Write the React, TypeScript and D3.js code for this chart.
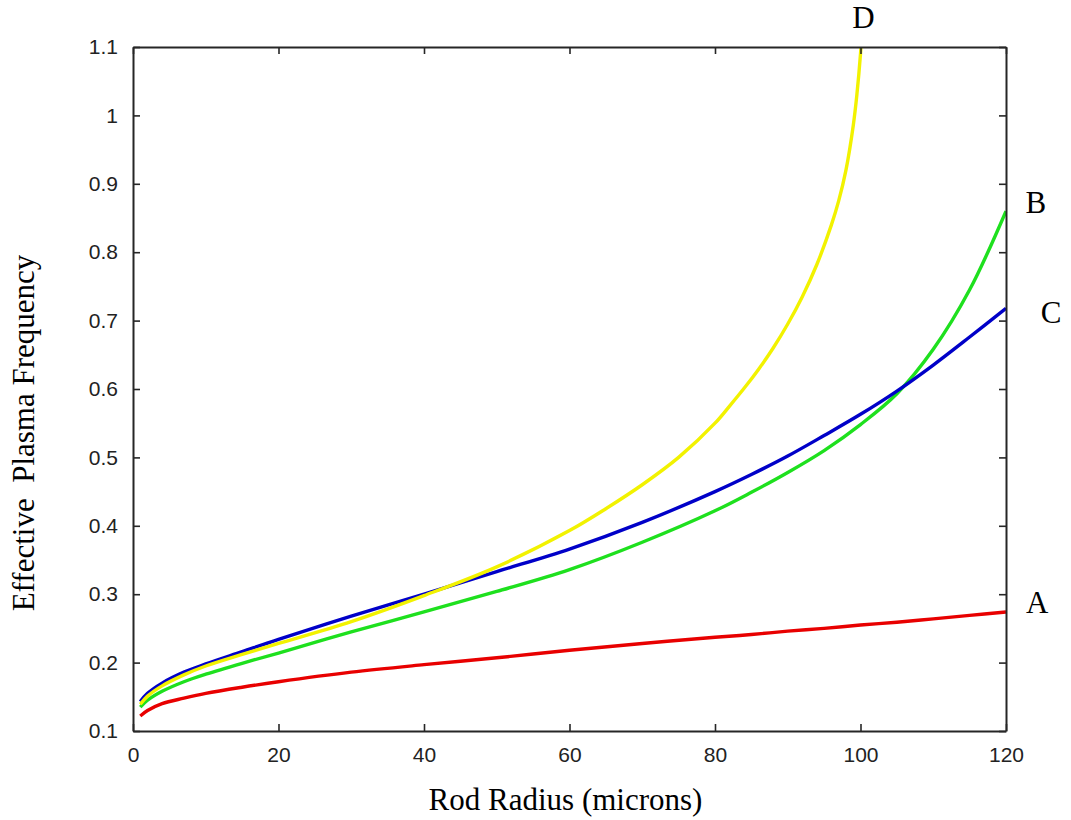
import React, { useEffect, useRef } from "react"
import * as d3 from "d3"

// radius values (microns) for each curve
const radiusABC = [1, 2, 4, 7, 10, 15, 20, 30, 40, 50, 60, 70, 80, 85, 90, 95, 100, 105, 110, 115, 120]
const curveA = [0.122, 0.13, 0.14, 0.148, 0.155, 0.164, 0.172, 0.186, 0.197, 0.207, 0.218, 0.228, 0.237, 0.241, 0.246, 0.25, 0.255, 0.259, 0.264, 0.269, 0.274]
const curveB = [0.135, 0.145, 0.158, 0.172, 0.183, 0.199, 0.214, 0.245, 0.274, 0.304, 0.336, 0.376, 0.422, 0.449, 0.478, 0.51, 0.548, 0.593, 0.658, 0.745, 0.86]
const curveC = [0.143, 0.155, 0.17, 0.186, 0.198, 0.216, 0.234, 0.268, 0.3, 0.333, 0.366, 0.405, 0.45, 0.475, 0.502, 0.532, 0.563, 0.597, 0.635, 0.676, 0.718]
const radiusD = [1, 2, 4, 7, 10, 15, 20, 30, 40, 50, 60, 65, 70, 75, 80, 82, 84, 86, 88, 90, 92, 94, 96, 97, 98, 99, 99.5, 100, 100.3]
const curveD = [0.139, 0.151, 0.166, 0.182, 0.195, 0.212, 0.228, 0.26, 0.298, 0.34, 0.393, 0.425, 0.46, 0.5, 0.55, 0.575, 0.601, 0.629, 0.66, 0.695, 0.735, 0.782, 0.84, 0.875, 0.92, 0.985, 1.03, 1.09, 1.14]

const xTicks = [0, 20, 40, 60, 80, 100, 120]
const yTicks = [0.1, 0.2, 0.3, 0.4, 0.5, 0.6, 0.7, 0.8, 0.9, 1, 1.1]

// curve names and where the letters sit (data units)
const seriesNames = ["A", "B", "C", "D"]
const labelX = [124.3, 124.1, 126.2, 100.4]
const labelY = [0.2725, 0.857, 0.696, 1.128]

const colors = ["#e80000", "#1ee01e", "#0000c8", "#f2f200"]

export default function App() {
  const ref = useRef<SVGSVGElement>(null)

  useEffect(() => {
    document.body.style.margin = "0"
    draw(ref.current!)
  }, [])

  return <svg ref={ref} width={1071} height={820} style={{ display: "block", background: "#fff" }} />
}

function draw(el: SVGSVGElement) {
  const width = 1071
  const height = 820
  const margin = { top: 47, right: 65, bottom: 89, left: 133 }

  const svg = d3.select(el)
  svg.selectAll("*").remove()

  const x = d3.scaleLinear().domain([0, 120]).range([margin.left, width - margin.right])
  const y = d3.scaleLinear().domain([0.1, 1.1]).range([height - margin.bottom, margin.top])

  svg.append("defs").append("clipPath").attr("id", "plot-clip")
    .append("rect")
    .attr("x", x(0)).attr("y", y(1.1))
    .attr("width", x(120) - x(0)).attr("height", y(0.1) - y(1.1))

  const line = d3.line<[number, number]>()
    .x(d => x(d[0]))
    .y(d => y(d[1]))
    .curve(d3.curveCatmullRom.alpha(0.5))

  const series = [
    radiusABC.map((r, i) => [r, curveA[i]] as [number, number]),
    radiusABC.map((r, i) => [r, curveB[i]] as [number, number]),
    radiusABC.map((r, i) => [r, curveC[i]] as [number, number]),
    radiusD.map((r, i) => [r, curveD[i]] as [number, number]),
  ]

  const plot = svg.append("g").attr("clip-path", "url(#plot-clip)")
  series.forEach((s, i) => {
    plot.append("path")
      .datum(s)
      .attr("d", line)
      .attr("fill", "none")
      .attr("stroke", colors[i])
      .attr("stroke-width", 3.4)
      .attr("stroke-linejoin", "round")
  })

  const tickFont = (g: d3.Selection<SVGGElement, unknown, null, undefined>) => {
    g.selectAll("text")
      .attr("font-family", "'Liberation Sans', Arial, sans-serif")
      .attr("font-size", 21)
      .attr("fill", "#222")
    g.selectAll("line").attr("stroke", "#262626").attr("stroke-width", 1.6)
    g.select(".domain").attr("stroke", "#262626").attr("stroke-width", 2)
  }

  const fmt = (d: d3.NumberValue) => String(+d)

  svg.append("g")
    .attr("transform", `translate(0,${y(0.1)})`)
    .call(d3.axisBottom(x).tickValues(xTicks).tickFormat(fmt).tickSizeInner(-7).tickSizeOuter(0).tickPadding(16))
    .call(tickFont)

  svg.append("g")
    .attr("transform", `translate(${x(0)},0)`)
    .call(d3.axisLeft(y).tickValues(yTicks).tickFormat(fmt).tickSizeInner(-7).tickSizeOuter(0).tickPadding(15))
    .call(tickFont)

  svg.append("g")
    .attr("transform", `translate(0,${y(1.1)})`)
    .call(d3.axisTop(x).tickValues(xTicks).tickFormat(() => "").tickSizeInner(-7).tickSizeOuter(0))
    .call(tickFont)

  svg.append("g")
    .attr("transform", `translate(${x(120)},0)`)
    .call(d3.axisRight(y).tickValues(yTicks).tickFormat(() => "").tickSizeInner(-7).tickSizeOuter(0))
    .call(tickFont)

  const serif = "'Liberation Serif', 'Times New Roman', serif"

  svg.append("text")
    .attr("x", (x(0) + x(120)) / 2 - 4)
    .attr("y", 810)
    .attr("text-anchor", "middle")
    .attr("font-family", serif)
    .attr("font-size", 31)
    .attr("fill", "#000")
    .text("Rod Radius (microns)")

  svg.append("text")
    .attr("transform", `translate(34,433) rotate(-90)`)
    .attr("text-anchor", "middle")
    .attr("font-family", serif)
    .attr("font-size", 31)
    .attr("fill", "#000")
    .style("white-space", "pre")
    .text("Effective  Plasma Frequency")

  seriesNames.forEach((name, i) => {
    svg.append("text")
      .attr("x", x(labelX[i]))
      .attr("y", y(labelY[i]))
      .attr("text-anchor", "middle")
      .attr("font-family", serif)
      .attr("font-size", 31)
      .attr("fill", "#000")
      .text(name)
  })
}
